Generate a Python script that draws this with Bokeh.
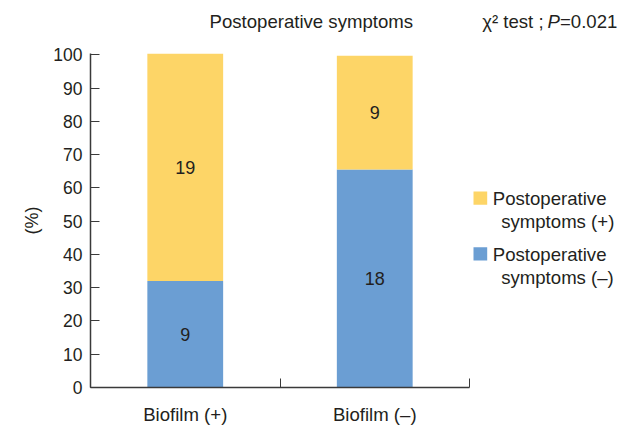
from bokeh.plotting import figure
from bokeh.models import Range1d, FixedTicker, ColumnDataSource
from bokeh.layouts import column, row
from bokeh.embed import file_html
from bokeh.resources import INLINE
from bokeh.core.properties import value

# ---- data ----
categories = ["Biofilm (+)", "Biofilm (\u2013)"]
pct_neg = [32.0, 65.5]      # Postoperative symptoms (–), % (blue)
pct_pos = [68.4, 34.2]      # Postoperative symptoms (+), % (yellow)
n_neg = [9, 18]
n_pos = [19, 9]
y_ticks = [0, 10, 20, 30, 40, 50, 60, 70, 80, 90, 100]
series_labels = [["Postoperative", "symptoms (+)"], ["Postoperative", "symptoms (\u2013)"]]

FONT = "Liberation Sans"
TXT = "#231f20"
AX = "#3a3a3a"
YEL = "#FDD567"
BLU = "#6B9ED3"
FS = "18.6px"

TOTAL_W, TOTAL_H = 632, 427
HEAD_H = 45
MAIN_W = 472
MAIN_H = TOTAL_H - HEAD_H
B_TOP, B_BOT = 8, 40
BASE_FIX = 6   # alphabetic-baseline compensation


def blank(w, h, top=0, bot=0):
    fh = h - top - bot
    f = figure(width=w, height=h, output_backend="svg", toolbar_location=None,
               x_range=Range1d(0, w), y_range=Range1d(fh, 0),
               x_axis_type=None, y_axis_type=None, min_border=0,
               min_border_left=0, min_border_right=0, min_border_top=top, min_border_bottom=bot)
    f.outline_line_color = None
    f.grid.grid_line_color = None
    f.background_fill_color = "white"
    f.border_fill_color = "white"
    return f


def txt(f, x, y, t, style="normal"):
    f.text(x=[x], y=[y - BASE_FIX], text=[t], text_font=value(FONT), text_font_size=FS,
           text_color=TXT, text_font_style=style, text_align="left", text_baseline="alphabetic")


# ---- header ----
head = blank(TOTAL_W, HEAD_H)
txt(head, 209, 27, "Postoperative symptoms")
txt(head, 481.7, 27, "\u03c7\u00b2 test ; ")
txt(head, 547, 27, "P", style="italic")
txt(head, 559.5, 27, "=0.021")

# ---- main plot ----
p = figure(width=MAIN_W, height=MAIN_H, output_backend="svg", toolbar_location=None,
           x_range=Range1d(0, len(categories)), y_range=Range1d(0, 100.4),
           min_border_left=90, min_border_right=3, min_border_top=B_TOP, min_border_bottom=B_BOT)
p.outline_line_color = None
p.grid.grid_line_color = None
p.background_fill_color = "white"
p.border_fill_color = "white"

xc = [i + 0.5 for i in range(len(categories))]
tops = [a + b for a, b in zip(pct_neg, pct_pos)]
src = ColumnDataSource(dict(
    x=xc, neg=pct_neg, top=tops,
    mid_neg=[a / 2 for a in pct_neg],
    mid_pos=[a + b / 2 for a, b in zip(pct_neg, pct_pos)],
    lab_neg=[str(v) for v in n_neg], lab_pos=[str(v) for v in n_pos]))

p.vbar(x="x", bottom=0, top="neg", width=0.4, source=src, fill_color=BLU, line_color=None)
p.vbar(x="x", bottom="neg", top="top", width=0.4, source=src, fill_color=YEL, line_color=None)
for ycol, tcol in (("mid_neg", "lab_neg"), ("mid_pos", "lab_pos")):
    p.text(x="x", y=ycol, text=tcol, source=src, text_align="center", text_baseline="middle",
           text_font=value(FONT), text_font_size="18px", text_color=TXT)

xa = p.xaxis[0]
xa.ticker = FixedTicker(ticks=xc, minor_ticks=[float(i) for i in range(len(categories) + 1)])
xa.major_label_overrides = {x: c for x, c in zip(xc, categories)}
xa.major_tick_line_color = None
xa.major_tick_in = 0
xa.major_tick_out = 0
xa.minor_tick_in = 9
xa.minor_tick_out = 0
xa.minor_tick_line_color = AX
xa.axis_line_color = AX
xa.axis_line_width = 1.5
xa.major_label_standoff = 16
xa.major_label_text_font = FONT
xa.major_label_text_font_size = FS
xa.major_label_text_color = TXT

ya = p.yaxis[0]
ya.ticker = FixedTicker(ticks=y_ticks)
ya.major_tick_in = 9
ya.major_tick_out = 0
ya.minor_tick_line_color = None
ya.major_tick_line_color = AX
ya.axis_line_color = AX
ya.axis_line_width = 1.5
ya.major_label_standoff = 8
ya.major_label_text_font = FONT
ya.major_label_text_font_size = "17.5px"
ya.major_label_text_color = TXT
ya.axis_label = "(%)"
ya.axis_label_text_font = FONT
ya.axis_label_text_font_style = "normal"
ya.axis_label_text_font_size = "18px"
ya.axis_label_text_color = TXT
ya.axis_label_standoff = 8

# ---- legend panel (frame aligned with main plot frame; y measured from frame top) ----
leg = blank(TOTAL_W - MAIN_W, MAIN_H, top=B_TOP, bot=B_BOT)
colors = [YEL, BLU]
sw_top = [138, 193.7]
for col, top, lines in zip(colors, sw_top, series_labels):
    leg.quad(left=[1], right=[14.7], top=[top], bottom=[top + 13.3], fill_color=col, line_color=None)
    txt(leg, 20.3, top + 13.3, lines[0])
    txt(leg, 28.7, top + 36, lines[1])

layout = column(head, row(p, leg, spacing=0), spacing=0)
open("out.html", "w").write(file_html(layout, INLINE))
